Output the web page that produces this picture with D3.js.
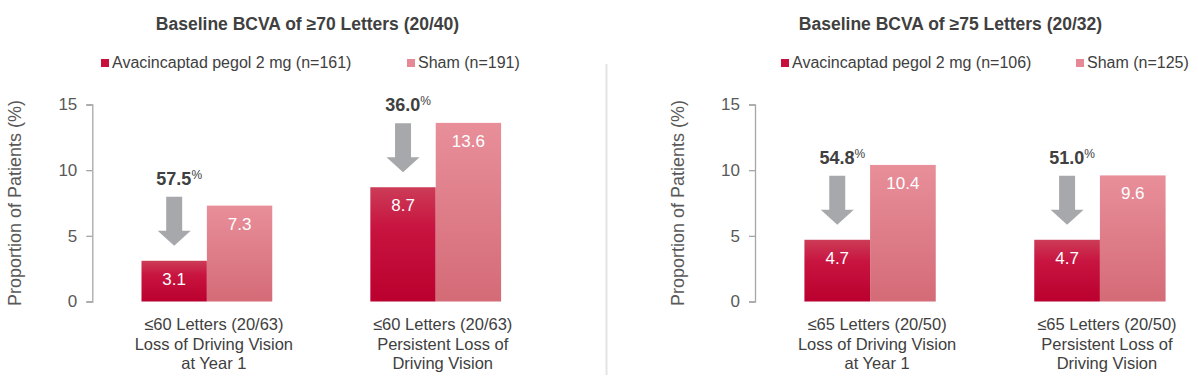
<!DOCTYPE html>
<html>
<head>
<meta charset="utf-8">
<script src="https://cdn.jsdelivr.net/npm/d3@7"></script>
<style>
  html, body { margin: 0; padding: 0; background: #ffffff; }
  svg { display: block; font-family: "Liberation Sans", Arial, sans-serif; }
</style>
</head>
<body>
<svg id="chart" width="1198" height="381"></svg>
<script>
// ---------- DATA ----------
const seriesNames = ["Avacincaptad pegol 2 mg", "Sham"];
const yTicks = [0, 5, 10, 15];

const titleLeft = "Baseline BCVA of \u226570 Letters (20/40)";
const legendLeft = ["Avacincaptad pegol 2 mg (n=161)", "Sham (n=191)"];
const categoriesLeft = [
  ["\u226460 Letters (20/63)", "Loss of Driving Vision", "at Year 1"],
  ["\u226460 Letters (20/63)", "Persistent Loss of", "Driving Vision"]
];
const avacincaptadLeft = [3.1, 8.7];
const shamLeft = [7.3, 13.6];
const reductionLeft = ["57.5", "36.0"];

const titleRight = "Baseline BCVA of \u226575 Letters (20/32)";
const legendRight = ["Avacincaptad pegol 2 mg (n=106)", "Sham (n=125)"];
const categoriesRight = [
  ["\u226465 Letters (20/50)", "Loss of Driving Vision", "at Year 1"],
  ["\u226465 Letters (20/50)", "Persistent Loss of", "Driving Vision"]
];
const avacincaptadRight = [4.7, 4.7];
const shamRight = [10.4, 9.6];
const reductionRight = ["54.8", "51.0"];

const yAxisTitle = "Proportion of Patients (%)";

// ---------- DRAW ----------
const svg = d3.select("#chart");
const defs = svg.append("defs");

const gRed = defs.append("linearGradient").attr("id", "gradRed")
  .attr("x1", 0).attr("y1", 0).attr("x2", 0).attr("y2", 1);
gRed.append("stop").attr("offset", "0%").attr("stop-color", "#cc3c57");
gRed.append("stop").attr("offset", "35%").attr("stop-color", "#c81440");
gRed.append("stop").attr("offset", "100%").attr("stop-color", "#ba002e");

const gPink = defs.append("linearGradient").attr("id", "gradPink")
  .attr("x1", 0).attr("y1", 0).attr("x2", 0).attr("y2", 1);
gPink.append("stop").attr("offset", "0%").attr("stop-color", "#e88f9a");
gPink.append("stop").attr("offset", "100%").attr("stop-color", "#d46b77");

const barFills = ["url(#gradRed)", "url(#gradPink)"];
const legendFills = ["#c8103d", "#e48995"];

const y = d3.scaleLinear().domain([0, 15]).range([301.5, 104.5]);

// separator
svg.append("line")
  .attr("x1", 606.5).attr("x2", 606.5).attr("y1", 64).attr("y2", 375)
  .attr("stroke", "#e4e4e4").attr("stroke-width", 2);

function drawPanel(cfg) {
  const g = svg.append("g");

  // title
  g.append("text")
    .attr("x", cfg.titleX).attr("y", 29.5)
    .attr("text-anchor", "middle")
    .attr("font-size", 17.5).attr("font-weight", "bold")
    .attr("fill", "#404040")
    .text(cfg.title);

  // legend
  cfg.legend.forEach((lab, i) => {
    const lx = cfg.legendX[i];
    g.append("rect")
      .attr("x", lx).attr("y", 59).attr("width", 8).attr("height", 8)
      .attr("fill", legendFills[i]);
    g.append("text")
      .attr("x", lx + 11).attr("y", 67.5)
      .attr("font-size", 16).attr("fill", "#404040")
      .text(lab);
  });

  // y axis
  const axis = d3.axisLeft(y).tickValues(yTicks).tickSize(6).tickSizeOuter(6).tickPadding(9);
  const ag = g.append("g").attr("transform", `translate(${cfg.axisX},0)`).call(axis);
  ag.selectAll("path, line").attr("stroke", "#a6a6a6").attr("stroke-width", 1.3);
  ag.selectAll("text").attr("font-size", 17).attr("fill", "#595959")
    .attr("font-family", "Liberation Sans, Arial, sans-serif");

  // y axis title
  g.append("text")
    .attr("transform", `translate(${cfg.axisX - 71},${(y(0) + y(15)) / 2 + 0}) rotate(-90)`)
    .attr("text-anchor", "middle")
    .attr("font-size", 18).attr("fill", "#595959")
    .text(yAxisTitle);

  // x band scale
  const x0 = d3.scaleBand().domain(d3.range(cfg.categories.length))
    .range([cfg.axisX, cfg.axisX + cfg.plotW])
    .paddingInner(0.4286).paddingOuter(0.215);
  const x1 = d3.scaleBand().domain([0, 1]).range([0, x0.bandwidth()]);

  cfg.categories.forEach((cat, i) => {
    const vals = [cfg.red[i], cfg.pink[i]];
    const gx = x0(i);
    vals.forEach((v, s) => {
      const bx = gx + x1(s);
      g.append("rect")
        .attr("x", bx).attr("y", y(v))
        .attr("width", x1.bandwidth()).attr("height", y(0) - y(v))
        .attr("fill", barFills[s]);
      g.append("text")
        .attr("x", bx + x1.bandwidth() / 2).attr("y", y(v) + 24)
        .attr("text-anchor", "middle")
        .attr("font-size", 17).attr("fill", "#ffffff")
        .text(v.toFixed(1));
    });

    // arrow over red bar
    const cx = gx + x1(0) + x1.bandwidth() / 2;
    const tip = y(vals[0]) - 15;
    const top = tip - 49;
    const headY = tip - 15;
    const sw = 8, hw = 16.5;
    const p = d3.path();
    p.moveTo(cx - sw, top);
    p.lineTo(cx + sw, top);
    p.lineTo(cx + sw, headY);
    p.lineTo(cx + hw, headY);
    p.lineTo(cx, tip);
    p.lineTo(cx - hw, headY);
    p.lineTo(cx - sw, headY);
    p.closePath();
    g.append("path").attr("d", p.toString()).attr("fill", "#a7a8ab");

    // reduction label
    const t = g.append("text")
      .attr("x", cx + 5).attr("y", top - 12)
      .attr("text-anchor", "middle")
      .attr("fill", "#404040");
    t.append("tspan").attr("font-size", 18).attr("font-weight", "bold").text(cfg.reduction[i]);
    t.append("tspan").attr("font-size", 12).attr("dy", -6).text("%");

    // category labels
    const lt = g.append("text")
      .attr("text-anchor", "middle")
      .attr("font-size", 16.5).attr("fill", "#404040");
    cat.forEach((line, k) => {
      lt.append("tspan")
        .attr("x", gx + x0.bandwidth() / 2 + 7)
        .attr("y", 330 + k * 19.5)
        .text(line);
    });
  });
}

drawPanel({
  title: titleLeft, titleX: 307.5,
  legend: legendLeft, legendX: [101, 407],
  axisX: 92.3, plotW: 458,
  categories: categoriesLeft, red: avacincaptadLeft, pink: shamLeft, reduction: reductionLeft
});

drawPanel({
  title: titleRight, titleX: 950.5,
  legend: legendRight, legendX: [781, 1076],
  axisX: 755, plotW: 460,
  categories: categoriesRight, red: avacincaptadRight, pink: shamRight, reduction: reductionRight
});
</script>
</body>
</html>
